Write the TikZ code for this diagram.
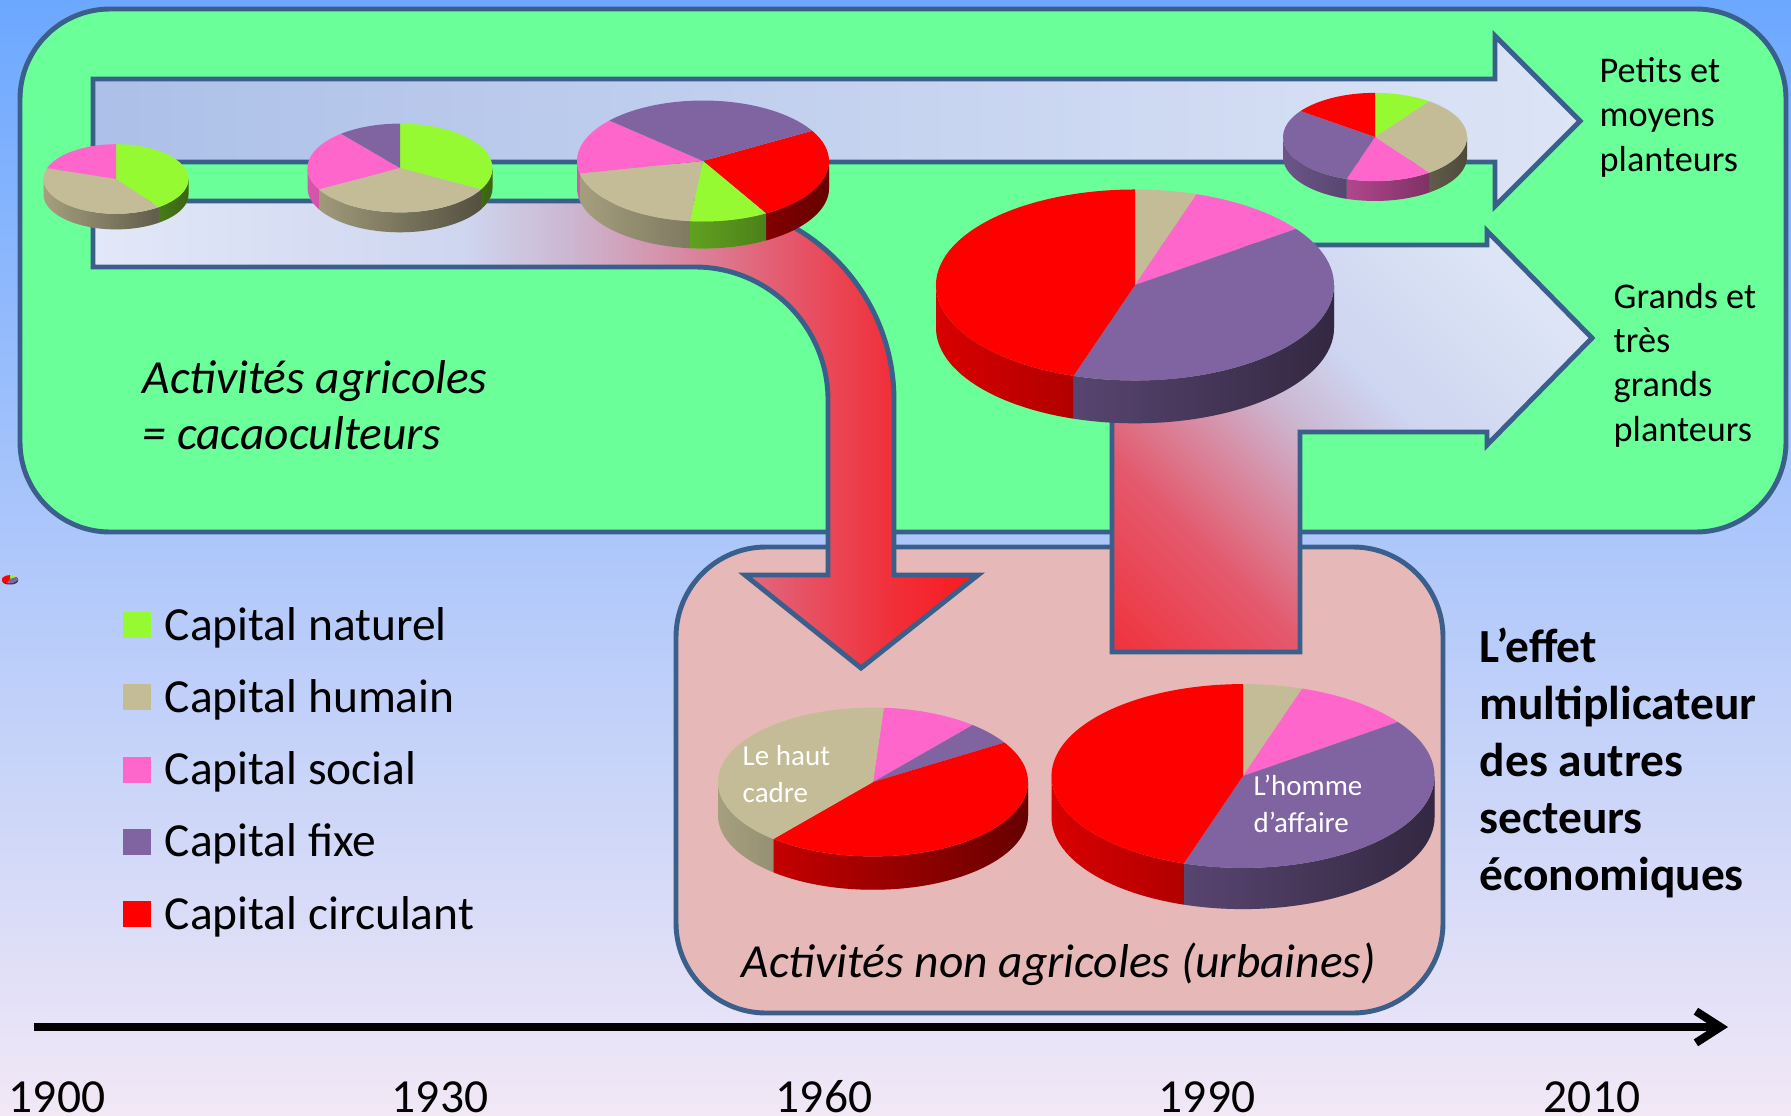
\documentclass[tikz,border=0pt]{standalone}
\usepackage{fontspec}
\setmainfont{Carlito}
\usetikzlibrary{arrows.meta,fadings}

\definecolor{bgtop}{RGB}{108,168,255}
\definecolor{bgmid}{RGB}{172,205,244}
\definecolor{bgbot}{RGB}{242,232,246}
\definecolor{agrigreen}{HTML}{6BFF9A}
\definecolor{urbanpink}{HTML}{E6B9B8}
\definecolor{edgeblue}{HTML}{3A5F8B}
\definecolor{cNat}{RGB}{150,250,50}
\definecolor{cHum}{RGB}{196,188,150}
\definecolor{cSoc}{RGB}{255,102,204}
\definecolor{cFix}{RGB}{128,100,162}
\definecolor{cCir}{RGB}{255,0,0}
\definecolor{bandA}{RGB}{172,192,232}
\definecolor{bandB}{RGB}{220,228,246}
\definecolor{paleA}{RGB}{226,232,248}
\definecolor{paleB}{RGB}{206,214,240}
\definecolor{mauveA}{RGB}{204,182,208}
\definecolor{roseA}{RGB}{215,140,165}
\definecolor{roseB}{RGB}{228,90,110}
\definecolor{redA}{RGB}{240,48,58}
\definecolor{redB}{RGB}{250,25,30}
\definecolor{bandC}{RGB}{205,213,240}

%% degrades des fleches
\pgfdeclarehorizontalshading{lowerband}{100bp}{color(0bp)=(paleA); color(25bp)=(paleA);
  color(46bp)=(paleB); color(52bp)=(mauveA); color(58bp)=(roseA); color(64bp)=(roseB);
  color(70bp)=(redA); color(75bp)=(redB); color(100bp)=(redB)}
\pgfdeclarehorizontalshading{grandband}{100bp}{color(0bp)=(redB); color(14bp)=(redA);
  color(30bp)=(roseB); color(47bp)=(mauveA); color(56bp)=(bandC); color(75bp)=(bandB);
  color(100bp)=(bandB)}
\tikzfading[name=pieside, left color=transparent!85, right color=transparent!40]

%% camembert 3D : centre, rayon x, angle de depart, parts
\newcommand{\camembert}[4]{%
  \begin{scope}[shift={#1}]
    \pgfmathsetmacro{\pRx}{#2}
    \pgfmathsetmacro{\pRy}{0.48*#2}
    \pgfmathsetmacro{\pTh}{0.215*#2}
    \xdef\pA{#3}
    \foreach \v/\c in {#4}{
      \pgfmathsetmacro{\pB}{\pA+3.6*\v}
      \foreach \sh in {0,360,720}{
        \pgfmathsetmacro{\sA}{max(\pA-\sh,0)}
        \pgfmathsetmacro{\sB}{min(\pB-\sh,180)}
        \ifdim\sA pt<\sB pt
          \fill[\c] ({\pRx*cos(\sA)},{\pRy*sin(\sA)})
            arc[start angle=\sA, end angle=\sB, x radius=\pRx, y radius=\pRy]
            -- ++(0,\pTh)
            arc[start angle=\sB, end angle=\sA, x radius=\pRx, y radius=\pRy] -- cycle;
        \fi
      }
      \xdef\pA{\pB}
    }
    \fill[black, path fading=pieside] (\pRx,0)
      arc[start angle=0, end angle=180, x radius=\pRx, y radius=\pRy]
      -- ++(0,\pTh)
      arc[start angle=180, end angle=0, x radius=\pRx, y radius=\pRy] -- cycle;
    \xdef\pA{#3}
    \foreach \v/\c in {#4}{
      \pgfmathsetmacro{\pB}{\pA+3.6*\v}
      \fill[\c] (0,0) -- ({\pRx*cos(\pA)},{\pRy*sin(\pA)})
        arc[start angle=\pA, end angle=\pB, x radius=\pRx, y radius=\pRy] -- cycle;
      \xdef\pA{\pB}
    }
  \end{scope}}

\begin{document}
\begin{tikzpicture}[x=0.01cm, y=-0.01cm,
                    every node/.style={inner sep=0pt, text=black},
                    edgeline/.style={draw=edgeblue, line width=1.4pt},
                    agritxt/.style={font=\fontsize{13.5}{15.9}\selectfont\itshape, align=left, anchor=base west},
                    legtxt/.style={font=\fontsize{13.5}{16}\selectfont, anchor=base west},
                    planttxt/.style={font=\fontsize{10.3}{12.6}\selectfont, align=left, anchor=base west},
                    pietxt/.style={font=\fontsize{8.25}{10.4}\selectfont, text=white, align=left, anchor=base west},
                    effettxt/.style={font=\fontsize{13.5}{16.2}\selectfont\bfseries, align=left, anchor=base west},
                    yeartxt/.style={font=\fontsize{13.5}{16}\selectfont, anchor=base}]

  \useasboundingbox (0,0) rectangle (1791,1115);

  %% fond
  \shade[top color=bgtop, middle color=bgmid, bottom color=bgbot] (0,0) rectangle (1791,1115);

  %% les deux cadres
  \draw[edgeline, fill=agrigreen, rounded corners=0.9cm] (20,9) rectangle (1786,532);
  \draw[edgeline, fill=urbanpink, rounded corners=0.9cm] (676,547) rectangle (1443,1013);

  %% fleche des petits et moyens planteurs
  \shade[edgeline, left color=bandA, right color=bandB]
    (93,79) -- (1495,79) -- (1495,36) -- (1580,121) -- (1495,206) -- (1495,162) -- (93,162) -- cycle;

  %% fleche courbe vers le haut cadre
  \shade[edgeline, shading=lowerband]
    (93,201) -- (695,201) arc[start angle=270, end angle=360, radius=199]
    -- (894,575) -- (978,575) -- (861,668) -- (745,575) -- (828,575)
    -- (828,400) arc[start angle=360, end angle=270, radius=133] -- (93,267) -- cycle;

  %% fleche des grands planteurs et vers l'homme d'affaire
  \shade[edgeline, shading=grandband, shading angle=45]
    (1112,245) -- (1487,245) -- (1487,231) -- (1592,338) -- (1487,445) -- (1487,432)
    -- (1300,432) -- (1300,652) -- (1112,652) -- cycle;

  %% camemberts
  \camembert{(116,179)}{72.5}{270}{40/cNat, 40/cHum, 20/cSoc}
  \camembert{(400,168)}{92.5}{270}{33/cNat, 34/cHum, 22/cSoc, 11/cFix}
  \camembert{(703,161)}{126}{330}{25/cCir, 10/cNat, 20/cHum, 15/cSoc, 30/cFix}
  \camembert{(1375,137)}{92}{270}{10/cNat, 30/cHum, 15/cSoc, 30/cFix, 15/cCir}
  \camembert{(1135,285)}{199}{270}{5/cHum, 10/cSoc, 40/cFix, 45/cCir}
  \camembert{(873,782)}{155}{274}{10/cSoc, 5/cFix, 45/cCir, 40/cHum}
  \camembert{(1243,776)}{191.5}{270}{5/cHum, 10/cSoc, 40/cFix, 45/cCir}
  \camembert{(10,579)}{8}{270}{15/cNat, 40/cFix, 45/cCir}

  %% textes (ancres sur la derniere ligne)
  \node[agritxt] (agri) at (142,449) {Activités agricoles\\= cacaoculteurs};
  \node[agritxt] (urbain) at (741,977) {Activités non agricoles (urbaines)};
  \node[planttxt] (petits) at (1599,171) {Petits et\\moyens\\planteurs};
  \node[planttxt] (grands) at (1613,441) {Grands et\\très\\grands\\planteurs};
  \node[pietxt] (cadre) at (742,802) {Le haut\\cadre};
  \node[pietxt] (homme) at (1253,832) {L’homme\\d’affaire};
  \node[effettxt] (effet) at (1479,890) {L’effet\\multiplicateur\\des autres\\secteurs\\économiques};

  %% legende
  \foreach \c/\t [count=\i] in {cNat/Capital naturel, cHum/Capital humain, cSoc/Capital social,
                                cFix/Capital fixe, cCir/Capital circulant}{
    \fill[\c] (123,{640+72.3*(\i-1)-28}) rectangle ++(28,26);
    \node[legtxt] (leg\i) at (164,{640+72.3*(\i-1)}) {\t};
  }

  %% axe du temps
  \coordinate (t0) at (34,1027);
  \coordinate (t1) at (1728,1027);
  \draw[line width=2.3pt, -{Straight Barb[length=7pt, width=9pt]}] (t0) -- (t1);
  \foreach \yr/\x in {1900/57, 1930/440, 1960/824, 1990/1207, 2010/1592}
    \node[yeartxt] (an\yr) at (\x,1112) {\yr};

\end{tikzpicture}
\end{document}
